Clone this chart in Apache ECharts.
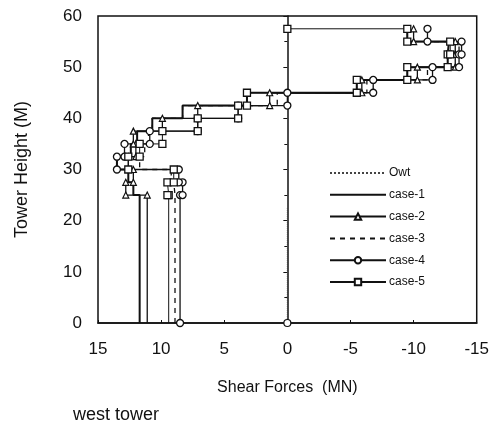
<!DOCTYPE html>
<html>
<head>
<meta charset="utf-8">
<script src="https://cdn.jsdelivr.net/npm/echarts@6/dist/echarts.min.js"></script>
<style>
html,body{margin:0;padding:0;background:#fff;}
#chart{width:492px;height:428px;}
</style>
</head>
<body>
<div id="chart"></div>
<script>
// Storey boundary heights (M)
var heights = [0, 25, 27.5, 30, 32.5, 35, 37.5, 40, 42.5, 45, 47.5, 50, 52.5, 55, 57.5];
// Shear force (MN) for each height band
var case1 = [11.7, 12.2, 12.6, 13.5, 12.4, 11.9, 10.7, 8.3, 3.2, -5.5, -9.5, -12.7, -12.8, -9.5];
var case2 = [11.1, 12.8, 12.2, 12.6, 12.0, 12.2, 9.9, 7.1, 1.4, -5.9, -10.3, -13.3, -13.3, -10.0];
var case3 = [8.9, 9.0, 9.2, 11.7, 11.3, 11.0, 10.7, 8.3, 0.8, -6.3, -11.1, -13.8, -13.6, -11.1];
var case4 = [8.5, 8.3, 8.6, 13.5, 12.9, 10.9, 7.1, 3.9, 0.0, -6.8, -11.5, -13.6, -13.8, -11.1];
var case5 = [9.4, 9.5, 9.0, 12.6, 11.7, 9.9, 7.1, 3.9, 3.2, -5.5, -9.5, -12.7, -12.9, -9.5];
var case5TopShear = 0;
// Own weight
var owtShear = [0, 0];
var owtHeight = [0, 22.5];
var xTicks = [15, 10, 5, 0, -5, -10, -15];

function stepPoints(vals, showFirst) {
  var pts = [];
  for (var i = 0; i < vals.length; i++) {
    var p0 = {value: [vals[i], heights[i]]};
    if (i === 0 && !showFirst) p0.symbol = 'none';
    pts.push(p0);
    pts.push({value: [vals[i], heights[i + 1]]});
  }
  return pts;
}

var c5 = stepPoints(case5, false);
c5.push({value: [case5TopShear, heights[heights.length - 1]]});

var owtData = [];
for (var k = 0; k < owtShear.length; k++) {
  owtData.push(k === 0 ? {value: [owtShear[k], owtHeight[k]], symbol: 'circle', symbolSize: 7}
                       : {value: [owtShear[k], owtHeight[k]]});
}

var black = '#111';
var font = 'Liberation Sans, Arial';
var chart = echarts.init(document.getElementById('chart'));
chart.setOption({
  animation: false,
  backgroundColor: '#fff',
  grid: {left: 98, right: 15, top: 16, bottom: 105, show: true, borderColor: black, borderWidth: 1.5},
  legend: {
    orient: 'vertical', left: 324, top: 161, itemWidth: 56, itemHeight: 8, itemGap: 7.8,
    textStyle: {fontFamily: font, fontSize: 12, color: black, lineHeight: 14, padding: [0, 0, 0, -2]},
    data: [
      {name: 'Owt', itemStyle: {opacity: 0}},
      {name: 'case-1', itemStyle: {opacity: 0}},
      {name: 'case-2'},
      {name: 'case-3', itemStyle: {opacity: 0}},
      {name: 'case-4'},
      {name: 'case-5'}
    ]
  },
  xAxis: {
    type: 'value', min: -15, max: 15, interval: 5, inverse: true,
    name: 'Shear Forces  (MN)', nameLocation: 'middle', nameGap: 57,
    nameTextStyle: {fontFamily: font, fontSize: 16, color: black},
    axisLine: {show: true, lineStyle: {color: black, width: 1.5}},
    axisTick: {show: true, inside: true, length: 3, lineStyle: {color: black}},
    axisLabel: {fontFamily: font, fontSize: 17, color: black, margin: 18,
      formatter: function (v) { return xTicks.indexOf(v) >= 0 ? String(v) : ''; }},
    splitLine: {show: false}
  },
  yAxis: {
    type: 'value', min: 0, max: 60, interval: 10,
    name: 'Tower Height (M)', nameLocation: 'middle', nameGap: 67,
    nameTextStyle: {fontFamily: font, fontSize: 18, color: black},
    axisLine: {show: true, lineStyle: {color: black, width: 1.5}},
    axisTick: {show: true, inside: false, length: 4, lineStyle: {color: black}},
    minorTick: {show: true, splitNumber: 2, length: 3, lineStyle: {color: black}},
    axisLabel: {fontFamily: font, fontSize: 17, color: black, margin: 16},
    splitLine: {show: false}
  },
  graphic: [{
    type: 'text', left: 73, top: 406,
    style: {text: 'west tower', font: '18px "Liberation Sans", Arial', fill: black}
  }],
  series: [
    {name: 'Owt', type: 'line', data: owtData, symbol: 'none', showSymbol: true,
      itemStyle: {color: '#fff', borderColor: black, borderWidth: 1.2},
      lineStyle: {color: '#444', width: 1, type: 'dotted'}},
    {name: 'case-1', type: 'line', data: stepPoints(case1, false), symbol: 'none',
      itemStyle: {color: black}, lineStyle: {color: black, width: 2}},
    {name: 'case-2', type: 'line', data: stepPoints(case2, false), symbol: 'triangle', symbolSize: 6,
      itemStyle: {color: '#fff', borderColor: black, borderWidth: 1.2}, lineStyle: {color: black, width: 1.3}},
    {name: 'case-3', type: 'line', data: stepPoints(case3, false), symbol: 'none',
      itemStyle: {color: black}, lineStyle: {color: black, width: 1.3, type: [5, 5]}},
    {name: 'case-4', type: 'line', data: stepPoints(case4, true), symbol: 'circle', symbolSize: 7,
      itemStyle: {color: '#fff', borderColor: black, borderWidth: 1.3}, lineStyle: {color: black, width: 1.3}},
    {name: 'case-5', type: 'line', data: c5, symbol: 'rect', symbolSize: 7,
      itemStyle: {color: '#fff', borderColor: black, borderWidth: 1.3}, lineStyle: {color: black, width: 1}}
  ]
});
</script>
</body>
</html>
